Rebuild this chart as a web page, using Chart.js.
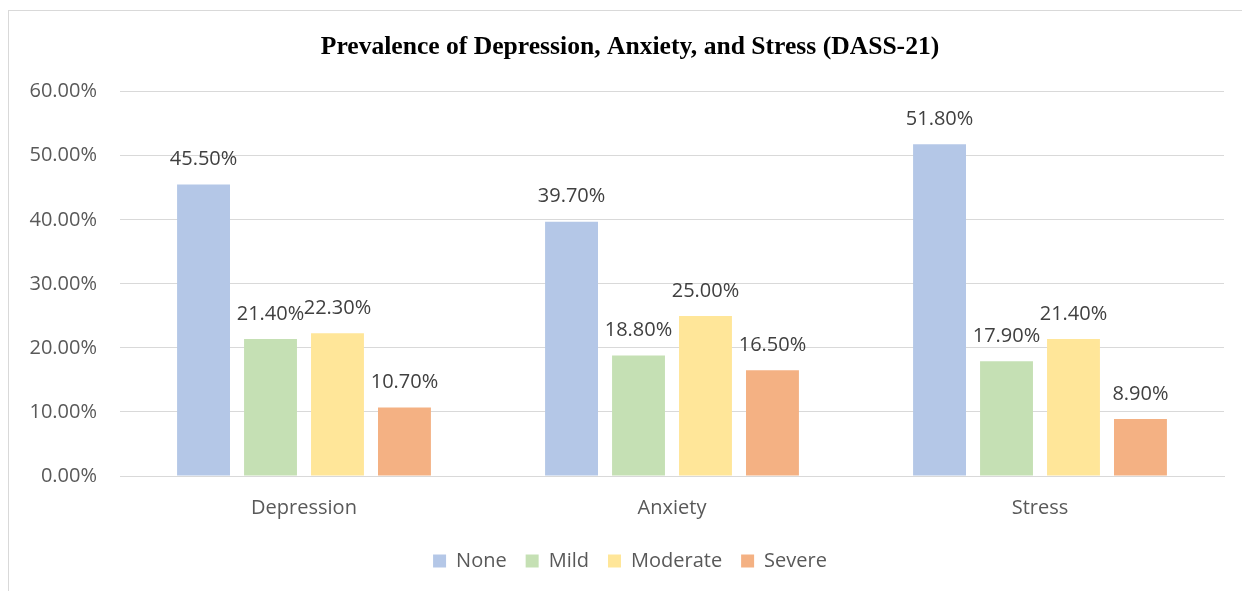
<!DOCTYPE html>
<html>
<head>
<meta charset="utf-8">
<script src="https://cdn.jsdelivr.net/npm/chart.js@4.4.1/dist/chart.umd.min.js"></script>
<style>
  html, body { margin: 0; padding: 0; background: #fff; overflow: hidden; }
  #frame {
    position: absolute; left: 8px; top: 10px;
    width: 1260px; height: 600px;
    border: 1px solid #d9d9d9;
  }
  #wrap { position: absolute; left: 0; top: 0; width: 1242px; height: 591px; }
</style>
</head>
<body>
<div id="frame"></div>
<div id="wrap"><canvas id="myChart"></canvas></div>
<script>
// values (percent)
var categories = ["Depression", "Anxiety", "Stress"];
var seriesNames = ["None", "Mild", "Moderate", "Severe"];
var noneValues = [45.5, 39.7, 51.8];
var mildValues = [21.4, 18.8, 17.9];
var moderateValues = [22.3, 25.0, 21.4];
var severeValues = [10.7, 16.5, 8.9];
var yTicks = [0, 10, 20, 30, 40, 50, 60];

var barColors = ["#b4c7e7", "#c5e0b4", "#ffe699", "#f4b183"];
var allValues = [noneValues, mildValues, moderateValues, severeValues];

var font = "'Open Sans', 'Liberation Sans', sans-serif";

// draws the value above each bar, like the Excel data labels
var barLabels = {
  id: "barLabels",
  afterDatasetsDraw(chart) {
    var ctx = chart.ctx;
    ctx.save();
    ctx.font = "20px " + font;
    ctx.fillStyle = "#404040";
    ctx.textAlign = "center";
    ctx.textBaseline = "middle";
    chart.data.datasets.forEach(function (ds, i) {
      chart.getDatasetMeta(i).data.forEach(function (bar, j) {
        ctx.fillText(ds.data[j].toFixed(2) + "%", bar.x, bar.y - 25);
      });
    });
    ctx.restore();
  },
};

new Chart("myChart", {
  type: "bar",
  data: {
    labels: categories,
    datasets: seriesNames.map(function (name, i) {
      return {
        label: name,
        data: allValues[i],
        backgroundColor: barColors[i],
        categoryPercentage: 0.728,
        barPercentage: 0.79,
      };
    }),
  },
  options: {
    responsive: true,
    maintainAspectRatio: false,
    animation: false,
    layout: { padding: { left: 26, right: 8, top: 0, bottom: 10 } },
    scales: {
      x: {
        grid: { display: false },
        border: { color: "#d9d9d9" },
        ticks: { color: "#595959", font: { family: font, size: 20 }, padding: 12 },
      },
      y: {
        min: 0,
        max: 60,
        afterBuildTicks(axis) {
          axis.ticks = yTicks.map(function (v) { return { value: v }; });
        },
        afterFit(axis) { axis.width = 94; },
        grid: { color: "#d9d9d9", lineWidth: 1, drawTicks: false },
        border: { display: false },
        ticks: {
          color: "#595959",
          font: { family: font, size: 20 },
          padding: 23,
          callback: function (v) { return v.toFixed(2) + "%"; },
        },
      },
      // empty strip on the right so the title stays centred like the original
      yRight: {
        position: "right",
        afterFit(axis) { axis.width = 10; },
        grid: { display: false },
        border: { display: false },
        ticks: { display: false },
      },
    },
    plugins: {
      title: {
        display: true,
        text: "Prevalence of Depression, Anxiety, and Stress (DASS-21)",
        color: "#000",
        font: { family: "'Liberation Serif', serif", size: 25.6, weight: "bold" },
        padding: { top: 32, bottom: 29 },
      },
      legend: {
        position: "bottom",
        labels: {
          color: "#595959",
          font: { family: font, size: 20 },
          boxWidth: 13,
          boxHeight: 13,
          padding: 19,
        },
      },
      tooltip: { enabled: false },
    },
  },
  plugins: [barLabels],
});
</script>
</body>
</html>
